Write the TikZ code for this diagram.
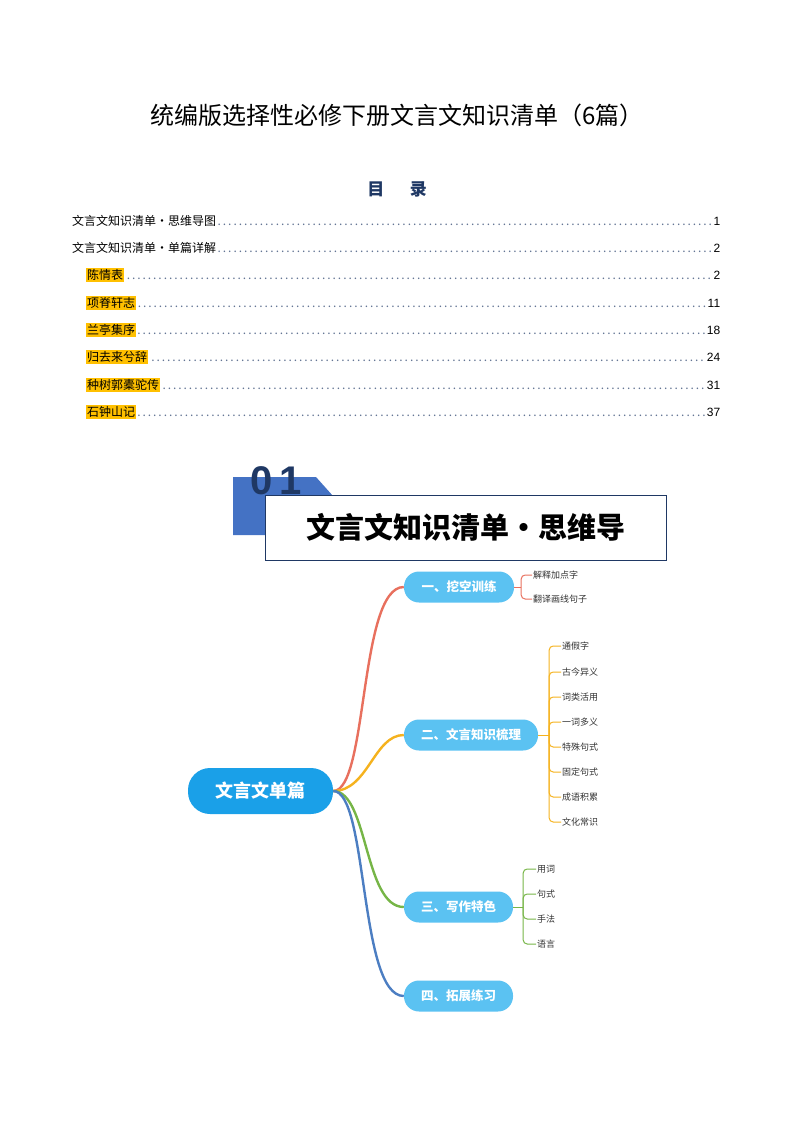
\documentclass[tikz,border=0pt]{standalone}
\usepackage{fontspec}
\setmainfont{Noto Sans CJK SC}
\newfontfamily\cjk{Noto Sans CJK SC}
\newfontfamily\numf{Liberation Sans}
\definecolor{navy}{HTML}{1F3864}
\definecolor{blk}{HTML}{4472C4}
\definecolor{hl}{HTML}{FFC000}
\definecolor{rootc}{HTML}{1AA0E8}
\definecolor{brc}{HTML}{5BC2F2}
\definecolor{cred}{HTML}{E8705E}
\definecolor{cyel}{HTML}{F5B21E}
\definecolor{cgrn}{HTML}{76B547}
\definecolor{cblu}{HTML}{4C7EC2}
\begin{document}
\begin{tikzpicture}[x=1pt,y=-1pt,
  toc/.style={anchor=west,inner sep=0pt,font=\fontsize{12}{14}\selectfont,text=black},
  br/.style={fill=brc,text=white,rounded corners=15pt,minimum height=31pt,inner sep=0pt,font=\bfseries\fontsize{12.5}{14}\selectfont},
  leaf/.style={anchor=west,inner sep=1pt,font=\fontsize{9}{10}\selectfont,text=black!80},
  conn/.style={line width=2.4pt},
  bk/.style={line width=1pt,rounded corners=4pt}]
\useasboundingbox (0,0) rectangle (794,1123);
\node (title) at (397,115) {\fontsize{24}{28}\selectfont 统编版选择性必修下册文言文知识清单（6篇）};
\node[text=navy] (mulu) at (397,189) {\bfseries\fontsize{17}{20}\selectfont 目\hspace{1.5em}录};
\newcommand{\tocline}[4]{\node[toc] (#1) at (#2) {\makebox[#3][l]{#4}};}
\tocline{t1}{72,221}{648pt}{文言文知识清单·思维导图\textcolor{navy!70}{\dotfill}\numf 1}
\tocline{t2}{72,248}{648pt}{文言文知识清单·单篇详解\textcolor{navy!70}{\dotfill}\numf 2}
\setlength{\fboxsep}{1pt}
\tocline{t3}{86,275}{634pt}{\colorbox{hl}{陈情表}\textcolor{navy!70}{\dotfill}\numf 2}
\tocline{t4}{86,303}{634pt}{\colorbox{hl}{项脊轩志}\textcolor{navy!70}{\dotfill}\numf 11}
\tocline{t5}{86,330}{634pt}{\colorbox{hl}{兰亭集序}\textcolor{navy!70}{\dotfill}\numf 18}
\tocline{t6}{86,357}{634pt}{\colorbox{hl}{归去来兮辞}\textcolor{navy!70}{\dotfill}\numf 24}
\tocline{t7}{86,385}{634pt}{\colorbox{hl}{种树郭橐驼传}\textcolor{navy!70}{\dotfill}\numf 31}
\tocline{t8}{86,412}{634pt}{\colorbox{hl}{石钟山记}\textcolor{navy!70}{\dotfill}\numf 37}
% header block
\fill[blk] (233,477) -- (316,477) -- (333,496) -- (333,535) -- (233,535) -- cycle;
\node[text=navy,font=\numf\bfseries\fontsize{40}{40}\selectfont] (num) at (276,481) {0\,1};
\node[draw=navy,line width=1pt,fill=white,minimum width=401pt,minimum height=65pt,inner sep=0pt,font=\bfseries\fontsize{29}{32}\selectfont] (hdr) at (465.5,527.5) {文言文知识清单·思维导};
% mind map
\node[fill=rootc,text=white,rounded corners=22pt,minimum width=145pt,minimum height=46pt,font=\bfseries\fontsize{18}{20}\selectfont] (root) at (260.5,791) {文言文单篇};
\node[br,minimum width=110pt] (b1) at (459,587) {一、挖空训练};
\node[br,minimum width=134pt] (b2) at (471,735) {二、文言知识梳理};
\node[br,minimum width=109pt] (b3) at (458.5,907) {三、写作特色};
\node[br,minimum width=109pt] (b4) at (458.5,996) {四、拓展练习};
\draw[conn,cred] (root.east) .. controls +(35,0) and +(-45,0) .. (b1.west);
\draw[conn,cyel] (root.east) .. controls +(35,0) and +(-30,0) .. (b2.west);
\draw[conn,cgrn] (root.east) .. controls +(35,0) and +(-40,0) .. (b3.west);
\draw[conn,cblu] (root.east) .. controls +(35,0) and +(-45,0) .. (b4.west);
% leaves 1
\node[leaf] (l11) at (532,575) {解释加点字};
\node[leaf] (l12) at (532,599) {翻译画线句子};
\draw[cred,line width=1pt] (b1.east) -- ++(7,0) coordinate (k1);
\foreach \l in {l11,l12} \draw[cred,bk] (k1) |- (\l.west);
% leaves 2
\foreach \t/\y [count=\i] in {通假字/646,古今异义/672,词类活用/697,一词多义/722,特殊句式/747,固定句式/772,成语积累/797,文化常识/822}
  \node[leaf] (l2\i) at (561,\y) {\t};
\draw[cyel,line width=1pt] (b2.east) -- ++(11,0) coordinate (k2);
\foreach \i in {1,...,8} \draw[cyel,bk] (k2) |- (l2\i.west);
% leaves 3
\foreach \t/\y [count=\i] in {用词/869,句式/894,手法/919,语言/944}
  \node[leaf] (l3\i) at (536,\y) {\t};
\draw[cgrn,line width=1pt] (b3.east) -- ++(10,0) coordinate (k3);
\foreach \i in {1,...,4} \draw[cgrn,bk] (k3) |- (l3\i.west);
\end{tikzpicture}
\end{document}
